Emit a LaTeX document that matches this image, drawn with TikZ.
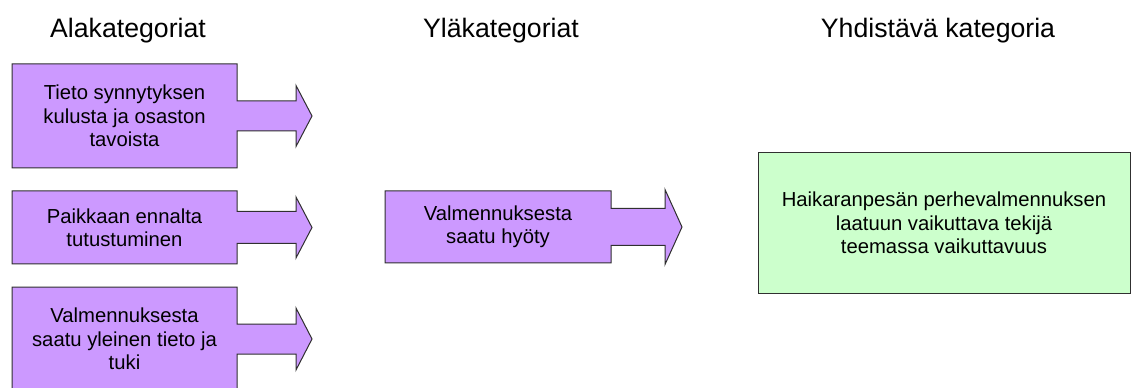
\documentclass[tikz,border=0pt]{standalone}
\usepackage{fontspec}
\setmainfont{Liberation Sans}
\definecolor{lilac}{HTML}{CC99FF}
\definecolor{mint}{HTML}{CCFFCC}
\definecolor{edgegray}{HTML}{303030}
% #1 left, #2 top, #3 right, #4 bottom, #5 centre y, #6 stem half height,
% #7 head half height, #8 head base x, #9 tip x
\newcommand\drawarrowbox[9]{%
  \draw[calloutline] (#1,#2) -- (#3,#2) -- (#3,#5-#6) -- (#8,#5-#6) -- (#8,#5-#7)
    -- (#9,#5) -- (#8,#5+#7) -- (#8,#5+#6) -- (#3,#5+#6) -- (#3,#4) -- (#1,#4) -- cycle;}
\tikzset{
  calloutline/.style={draw=edgegray, fill=lilac, line width=0.75pt, line join=miter},
  greenbox/.style={draw=edgegray, fill=mint, line width=0.75pt},
  boxtext/.style={align=center, inner sep=0pt, font=\fontsize{15.2pt}{17.5pt}\selectfont},
  headtext/.style={anchor=base, inner sep=0pt, font=\fontsize{20pt}{24pt}\selectfont}
}
\begin{document}
\begin{tikzpicture}[x=0.75pt, y=-0.75pt]
\useasboundingbox (0,0) rectangle (1131,388);
\clip (0,0) rectangle (1131,388);
\fill[white] (0,0) rectangle (1131,388);

% headers
\node[headtext] (h1) at (128,38) {Alakategoriat};
\node[headtext] (h2) at (501,38) {Yläkategoriat};
\node[headtext] (h3) at (938,38) {Yhdistävä kategoria};

% sub-category callouts
\drawarrowbox{12}{64}{237}{168}{116}{15}{30.5}{296}{312}
\node[boxtext] (a1) at (124.5,116) {Tieto synnytyksen\\kulusta ja osaston\\tavoista};

\drawarrowbox{12}{191}{237}{264}{227.5}{16}{30.5}{296}{312}
\node[boxtext] (a2) at (124.5,227.5) {Paikkaan ennalta\\tutustuminen};

\drawarrowbox{12}{287}{237}{391}{339}{15}{31}{296}{312}
\node[boxtext] (a3) at (124.5,339) {Valmennuksesta\\saatu yleinen tieto ja\\tuki};

% upper category callout
\drawarrowbox{385}{191}{611}{263}{227}{18.5}{37.5}{665}{682}
\node[boxtext] (b1) at (498,227) {Valmennuksesta\\saatu hyöty};

% combining category
\draw[greenbox] (758,153) rectangle (1130,293);
\node[boxtext] (c1) at (944,223) {Haikaranpesän perhevalmennuksen\\laatuun vaikuttava tekijä\\teemassa vaikuttavuus};
\end{tikzpicture}
\end{document}
